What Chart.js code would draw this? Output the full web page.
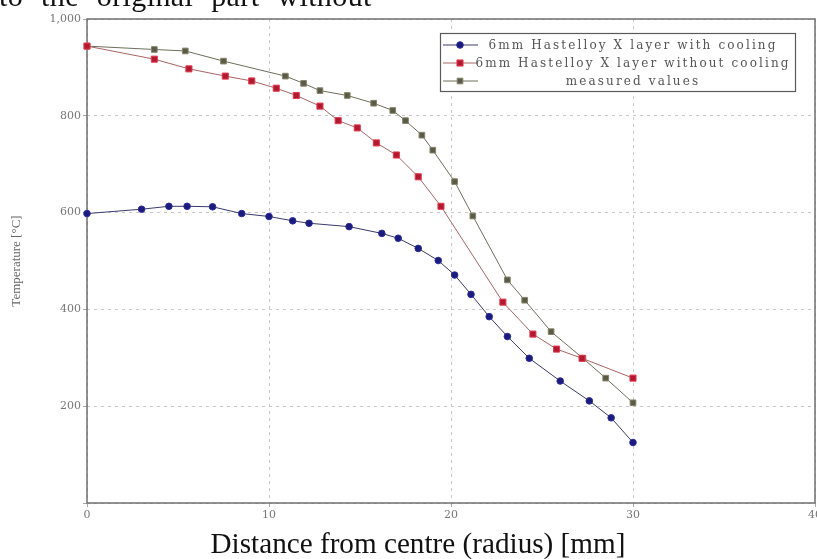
<!DOCTYPE html>
<html><head><meta charset="utf-8">
<script src="https://cdn.jsdelivr.net/npm/chart.js@4.4.1/dist/chart.umd.min.js"></script>
<style>
html,body{margin:0;padding:0;background:#fff;overflow:hidden}
#wrap{position:relative;width:817px;height:559px;overflow:hidden}
#c{position:absolute;left:0;top:0}
#xt{position:absolute;left:118px;width:600px;top:527px;text-align:center;font-family:"Liberation Serif",serif;font-size:29.2px;line-height:32px;color:#111;white-space:nowrap}
#top{position:absolute;left:-1px;top:-19px;font-family:"Liberation Serif",serif;font-size:30px;line-height:30px;color:#111;white-space:nowrap;word-spacing:10px;letter-spacing:0.4px}
</style>
</head><body>
<div id="wrap">
<canvas id="c" width="817" height="559"></canvas>
<div id="top">to the original part without</div>
<div id="xt">Distance from centre (radius) [mm]</div>
</div>
<script>
// ---- data ----
const seriesLabels = [
  "6mm Hastelloy X layer with cooling",
  "6mm Hastelloy X layer without cooling",
  "measured values"
];
const coolX = [0, 3.0, 4.5, 5.5, 6.9, 8.5, 10.0, 11.3, 12.2, 14.4, 16.2, 17.1, 18.2, 19.3, 20.2, 21.1, 22.1, 23.1, 24.3, 26.0, 27.6, 28.8, 30.0];
const coolT = [598, 607, 613, 613, 612, 598, 592, 583, 578, 571, 557, 547, 526, 501, 471, 431, 385, 344, 299, 252, 211, 176, 125];
const noCoolX = [0, 3.7, 5.6, 7.6, 9.05, 10.4, 11.5, 12.8, 13.8, 14.85, 15.9, 17.0, 18.2, 19.45, 22.85, 24.5, 25.8, 27.2, 30.0];
const noCoolT = [944, 917, 897, 882, 872, 857, 842, 820, 790, 775, 744, 719, 674, 613, 415, 349, 318, 299, 258];
const measX = [0, 3.7, 5.4, 7.5, 10.9, 11.9, 12.8, 14.3, 15.75, 16.8, 17.5, 18.4, 19.0, 20.2, 21.2, 23.1, 24.05, 25.5, 27.25, 28.5, 30.0];
const measT = [944, 937, 934, 913, 882, 867, 852, 842, 826, 811, 790, 760, 729, 664, 593, 461, 419, 354, 299, 258, 207];
const xTicks = [0, 10, 20, 30, 40];
const yTicks = [200, 400, 600, 800, 1000];
const yTitle = "Temperature [°C]";

function pts(xs, ys){ return xs.map((x,i)=>({x:x, y:ys[i]})); }

const boxPlugin = {
  id:'plotBox',
  beforeDatasetsDraw(chart){
    const {ctx, chartArea:a} = chart;
    ctx.save();
    ctx.strokeStyle = '#6f6f6f';
    ctx.lineWidth = 1.5;
    ctx.strokeRect(a.left, a.top, a.right - a.left, a.bottom - a.top);
    ctx.restore();
  }
};

const legendPlugin = {
  id:'boxLegend',
  afterDraw(chart){
    const ctx = chart.ctx;
    const L = 440, T = 33, R = 795, B = 91;
    ctx.save();
    ctx.fillStyle = '#fff';
    ctx.fillRect(L, T, R - L, B - T);
    ctx.strokeStyle = '#5a5a5a';
    ctx.lineWidth = 1.2;
    ctx.strokeRect(L + 0.5, T + 0.5, R - L, B - T);
    ctx.font = '12px "DejaVu Serif"';
    const ds = chart.data.datasets;
    const w0 = ctx.measureText(ds[0].label).width;
    const ls = Math.max(0, (287 - w0) / (ds[0].label.length - 1));
    ctx.letterSpacing = ls.toFixed(2) + 'px';
    ds.forEach((d, i) => {
      const y = 45 + i * 18;
      ctx.strokeStyle = d.borderColor;
      ctx.lineWidth = 1;
      ctx.beginPath(); ctx.moveTo(443, y); ctx.lineTo(478, y); ctx.stroke();
      ctx.fillStyle = d.pointBackgroundColor;
      ctx.strokeStyle = d.pointBorderColor;
      Chart.helpers.drawPoint(ctx, {pointStyle: d.pointStyle, radius: d.pointRadius, rotation: 0, borderWidth: 1}, 460, y);
      ctx.fillStyle = '#555';
      ctx.textAlign = 'center';
      ctx.textBaseline = 'middle';
      ctx.fillText(d.label, 633, y + 1);
    });
    ctx.restore();
  }
};

new Chart(document.getElementById('c'), {
  type: 'line',
  data: {
    datasets: [
      { label: seriesLabels[0], data: pts(coolX, coolT), borderColor: '#3a3a6a', borderWidth: 1, clip: false,
        pointStyle: 'circle', pointRadius: 3.3, pointBackgroundColor: '#1b1b7a', pointBorderColor: '#2c2ca0', pointBorderWidth: 1 },
      { label: seriesLabels[1], data: pts(noCoolX, noCoolT), borderColor: '#a86464', borderWidth: 1, clip: false,
        pointStyle: 'rect', pointRadius: 4.3, pointBackgroundColor: '#b01a30', pointBorderColor: '#e8384e', pointBorderWidth: 1 },
      { label: seriesLabels[2], data: pts(measX, measT), borderColor: '#6e6e5c', borderWidth: 1, clip: false,
        pointStyle: 'rect', pointRadius: 4.0, pointBackgroundColor: '#5a5a46', pointBorderColor: '#85856c', pointBorderWidth: 1 }
    ]
  },
  options: {
    responsive: false,
    animation: false,
    events: [],
    layout: { autoPadding: false, padding: { top: 19, right: 2, left: 0, bottom: 0 } },
    elements: { line: { tension: 0 } },
    plugins: { legend: { display: false }, tooltip: { enabled: false } },
    scales: {
      x: {
        type: 'linear', min: 0, max: 40,
        afterBuildTicks(s){ s.ticks = xTicks.map(v => ({value: v})); },
        afterFit(s){ s.height = 56; s.paddingLeft = 0; s.paddingRight = 0; },
        grid: { color: '#c8c8c8', lineWidth: 1, tickLength: 4, tickColor: '#aaa' },
        border: { display: false, dash: [3, 4] },
        ticks: { padding: 2, color: '#777', font: { family: '"DejaVu Serif"', size: 11 }, maxRotation: 0,
          callback: v => String(v) }
      },
      y: {
        type: 'linear', min: 0, max: 1000,
        afterBuildTicks(s){ s.ticks = [0].concat(yTicks).map(v => ({value: v})); },
        afterFit(s){ s.width = 87; s.paddingTop = 0; s.paddingBottom = 0; },
        grid: { color: '#c8c8c8', lineWidth: 1, tickLength: 4, tickColor: '#aaa' },
        border: { display: false, dash: [3, 4] },
        ticks: { padding: 2, color: '#777', font: { family: '"DejaVu Serif"', size: 11 },
          callback: v => v === 0 ? '' : v.toLocaleString('en-US') },
        title: { display: true, text: yTitle, color: '#666', font: { family: '"Liberation Serif"', size: 13 },
          padding: { top: 9, bottom: 0 } }
      }
    }
  },
  plugins: [boxPlugin, legendPlugin]
});
</script>
</body></html>
